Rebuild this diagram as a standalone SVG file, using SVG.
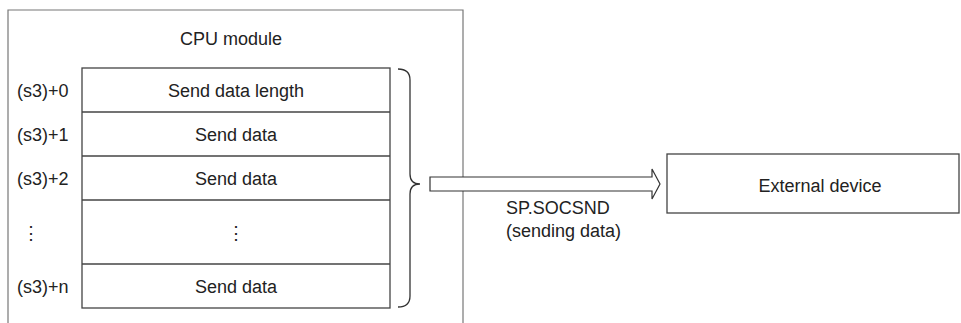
<svg xmlns="http://www.w3.org/2000/svg" width="961" height="323" viewBox="0 0 961 323">
<style>
text{font-family:"Liberation Sans",Arial,sans-serif;font-size:18px;fill:#222}
.c{text-anchor:middle}
.box{fill:#fff;stroke:#444;stroke-width:1.3}
.frame{fill:none;stroke:#777;stroke-width:1.2}
</style>
<rect width="961" height="323" fill="#fff"/>
<g id="cpu">
<path class="frame" d="M8,324 V10 H463 V324"/>
<text class="c" x="231" y="45">CPU module</text>
</g>
<g id="table">
<rect class="box" x="82" y="68" width="308" height="240"/>
<line class="box" x1="82" y1="112" x2="390" y2="112"/>
<line class="box" x1="82" y1="156" x2="390" y2="156"/>
<line class="box" x1="82" y1="200" x2="390" y2="200"/>
<line class="box" x1="82" y1="264" x2="390" y2="264"/>
<text class="c" x="236" y="97">Send data length</text>
<text class="c" x="236" y="141">Send data</text>
<text class="c" x="236" y="185">Send data</text>
<text class="c" x="236" y="239">⋮</text>
<text class="c" x="236" y="293">Send data</text>
<text x="17" y="97">(s3)+0</text>
<text x="17" y="141">(s3)+1</text>
<text x="17" y="185">(s3)+2</text>
<text x="22" y="239">⋮</text>
<text x="17" y="293">(s3)+n</text>
</g>
<g id="external">
<rect class="box" x="667" y="154" width="292" height="59"/>
<text class="c" x="820" y="192">External device</text>
</g>
<g id="connectors">
<path fill="none" stroke="#333" stroke-width="1.3" d="M398,69 Q410,69 410,80 V174 Q410,184 420,184 Q410,184 410,194 V296 Q410,307 398,307"/>
<path fill="#fff" stroke="#333" stroke-width="1.2" d="M430,177 H652 V169 L660,184 L652,199 V191 H430 Z"/>
<text x="506" y="214">SP.SOCSND</text>
<text x="506" y="237">(sending data)</text>
</g>
</svg>
